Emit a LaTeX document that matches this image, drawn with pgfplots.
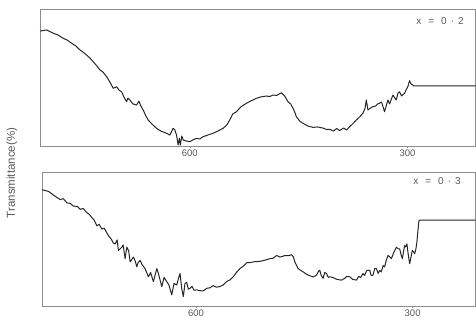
\documentclass[border=0pt]{standalone}
\usepackage{pgfplots}
\pgfplotsset{compat=1.18}
\usepackage{fontspec}
\setmainfont{Liberation Sans}
\definecolor{inkc}{gray}{0.15}
\definecolor{framec}{gray}{0.55}
\definecolor{textc}{gray}{0.35}

\pgfplotstableread{
w T
806.4 83.9
797.2 84.7
788.1 82.3
781.6 81.0
774.4 78.6
769.3 77.4
762.8 75.0
756.9 73.0
751.4 70.1
747.2 68.6
742.2 66.4
737.6 64.2
733.1 61.5
728.0 58.4
723.8 55.5
719.7 54.0
714.6 50.6
710.1 46.7
705.5 42.1
700.9 43.3
697.7 40.9
694.0 39.6
690.8 35.8
687.1 32.3
685.3 35.0
682.6 33.6
678.4 30.7
673.3 29.9
670.2 32.8
667.4 29.2
664.3 26.3
660.5 21.9
657.4 19.0
652.3 16.1
645.8 12.9
639.9 10.9
632.1 9.3
627.5 8.0
623.0 12.9
620.6 11.7
618.3 8.0
616.1 0.7
614.4 5.8
613.1 0.7
611.0 7.3
609.2 4.4
604.5 3.6
600.0 3.1
595.9 4.4
590.8 5.6
586.2 5.1
581.7 6.8
575.2 8.0
567.9 9.3
561.5 10.9
554.2 12.9
549.1 15.3
545.0 19.0
540.8 23.4
535.7 25.0
529.8 28.5
522.0 31.2
516.1 32.8
508.2 34.8
502.3 35.8
494.5 36.5
489.9 36.1
485.4 37.2
480.3 36.9
473.8 38.9
469.3 36.5
464.7 32.3
461.0 30.7
457.8 27.5
455.5 24.8
453.2 21.4
448.6 18.2
444.1 16.6
437.6 14.6
430.3 13.6
423.9 13.9
416.6 13.1
411.5 12.0
407.3 12.2
401.8 10.9
397.7 12.8
393.6 11.3
388.1 13.1
383.9 11.7
379.8 14.1
375.7 16.1
370.6 19.0
366.1 21.2
361.5 23.9
358.5 27.7
356.8 33.6
354.6 26.3
350.9 27.7
347.8 28.7
344.0 29.2
341.3 30.7
338.5 31.2
335.8 32.1
331.7 25.0
327.1 33.6
324.8 30.7
320.2 37.2
315.6 33.6
313.1 38.7
311.0 39.6
308.3 36.5
304.1 38.5
302.1 40.9
299.6 43.3
297.3 47.7
295.2 45.3
292.7 44.5
291.8 43.8
206.4 43.8
}\topdata

\pgfplotstableread{
w T
813.3 86.8
804.2 85.5
794.9 81.8
788.0 79.4
783.9 80.1
778.8 77.0
774.2 76.5
769.6 74.5
764.5 74.3
760.4 72.1
756.2 72.8
751.1 69.6
747.9 68.4
744.2 66.0
741.0 64.0
737.3 59.8
734.1 61.0
730.4 57.4
727.2 58.1
721.2 52.4
717.5 50.0
714.7 47.1
712.0 46.3
709.2 49.3
707.4 41.4
702.7 43.9
700.9 45.6
698.2 35.3
695.8 43.9
693.3 41.2
691.2 32.9
686.7 36.5
684.3 33.8
682.0 29.2
680.2 32.4
677.4 34.0
674.7 30.9
670.5 27.9
665.9 21.8
662.9 25.0
659.0 18.2
654.3 27.9
652.1 24.3
647.4 14.5
644.2 21.3
640.5 18.2
637.3 15.4
633.6 8.3
630.4 16.9
626.7 15.7
624.2 20.6
622.1 24.3
619.8 13.2
617.6 7.1
615.2 16.9
612.9 17.6
610.6 12.5
608.3 13.2
605.5 14.7
602.8 11.8
599.0 12.0
594.5 11.4
589.9 11.3
585.2 13.2
580.6 13.6
576.1 15.2
571.7 14.0
566.8 14.5
562.3 15.7
557.6 18.2
553.0 19.5
548.4 21.8
544.0 25.0
539.2 27.9
533.6 30.1
529.5 32.4
525.3 32.4
518.4 33.1
511.5 33.3
504.6 34.2
497.7 35.3
492.9 35.7
488.4 37.7
483.9 36.5
479.7 37.1
477.0 37.7
472.8 37.5
467.7 38.2
465.2 36.8
463.1 32.9
458.6 27.9
454.8 26.5
451.7 25.5
446.5 23.5
442.4 22.6
437.6 21.7
433.1 23.0
430.6 25.7
428.6 26.7
426.5 22.8
424.0 20.6
421.7 25.0
419.3 24.3
416.8 21.3
414.7 21.8
410.2 21.3
405.1 19.9
398.6 19.3
394.0 20.6
391.2 22.1
387.1 21.8
383.0 19.9
377.8 19.3
374.6 22.1
371.9 21.3
368.7 24.3
366.4 22.8
363.6 26.5
359.4 26.7
357.4 22.8
354.9 23.0
352.5 27.9
350.2 27.9
347.7 24.3
345.6 26.5
343.3 25.5
340.8 30.1
338.7 29.2
336.6 33.8
334.1 37.7
331.8 36.8
329.4 35.3
326.3 39.7
322.5 43.9
320.0 42.6
317.9 42.6
315.9 38.2
314.2 35.3
312.4 41.2
311.1 45.1
309.7 44.1
307.9 46.3
306.2 39.0
304.1 31.6
302.1 36.8
300.4 41.4
298.6 40.4
297.2 39.0
295.4 42.6
294.1 47.6
292.7 55.9
291.3 63.5
290.3 64.0
212.9 64.0
}\botdata

\pgfplotsset{
  specstyle/.style={
    scale only axis,
    anchor=south west,
    x dir=reverse,
    ymin=0, ymax=100,
    ytick=\empty,
    xtick={600,300},
    xtick pos=bottom,
    tick align=outside,
    major tick length=2pt,
    tick style={framec, line width=0.5pt},
    axis line style={framec, line width=0.6pt},
    xticklabel style={font=\fontsize{9.5}{11}\selectfont, text=textc, yshift=1.5pt},
    /pgf/number format/assume math mode=true,
    clip=false,
  },
  curvestyle/.style={inkc, line width=1pt, line join=round, mark=none},
}

\begin{document}
\begin{tikzpicture}[x=1pt,y=1pt]
\useasboundingbox (0,0) rectangle (476,320);

\begin{axis}[specstyle, at={(40pt,174pt)}, width=435.5pt, height=137pt,
  xmin=206.4, xmax=806.4]
  \addplot[curvestyle] table[x=w,y=T] {\topdata};
\end{axis}

\begin{axis}[specstyle, at={(42pt,14pt)}, width=433.5pt, height=134pt,
  xmin=212.9, xmax=813.3]
  \addplot[curvestyle] table[x=w,y=T] {\botdata};
\end{axis}

\node[text=textc, font=\fontsize{10}{12}\selectfont] at (440,299)
  {x\hspace{7pt}=\hspace{7pt}0\hspace{4pt}·\hspace{4pt}2};
\node[text=textc, font=\fontsize{10}{12}\selectfont] at (437,139)
  {x\hspace{7pt}=\hspace{7pt}0\hspace{4pt}·\hspace{4pt}3};

\node[text=textc, rotate=90, font=\fontsize{11.5}{13}\selectfont] at (12,147)
  {Transmittance(\%)};
\end{tikzpicture}
\end{document}
